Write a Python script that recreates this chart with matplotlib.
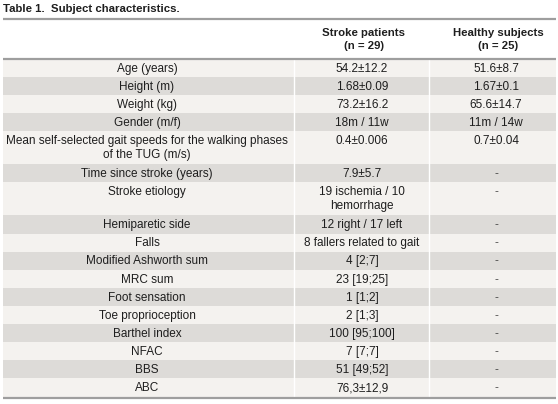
import matplotlib
matplotlib.use("Agg")
import matplotlib.pyplot as plt
from matplotlib.patches import Rectangle

plt.rcParams['font.family'] = ['Liberation Sans', 'DejaVu Sans']

title = "Table 1.  Subject characteristics."
headers = ["", "Stroke patients\n(n = 29)", "Healthy subjects\n(n = 25)"]

labels = [
    "Age (years)",
    "Height (m)",
    "Weight (kg)",
    "Gender (m/f)",
    "Mean self-selected gait speeds for the walking phases\nof the TUG (m/s)",
    "Time since stroke (years)",
    "Stroke etiology",
    "Hemiparetic side",
    "Falls",
    "Modified Ashworth sum",
    "MRC sum",
    "Foot sensation",
    "Toe proprioception",
    "Barthel index",
    "NFAC",
    "BBS",
    "ABC",
]
stroke = [
    "54.2\u00b112.2", "1.68\u00b10.09", "73.2\u00b116.2", "18m / 11w",
    "0.4\u00b10.006", "7.9\u00b15.7", "19 ischemia / 10\nhemorrhage",
    "12 right / 17 left", "8 fallers related to gait", "4 [2;7]",
    "23 [19;25]", "1 [1;2]", "2 [1;3]", "100 [95;100]", "7 [7;7]",
    "51 [49;52]", "76,3\u00b112,9",
]
healthy = [
    "51.6\u00b18.7", "1.67\u00b10.1", "65.6\u00b114.7", "11m / 14w",
    "0.7\u00b10.04", "-", "-", "-", "-", "-", "-", "-", "-", "-", "-", "-", "-",
]

# layout in pixels
W, H = 558, 404
left, right = 3, 556
col_x = [147, 362, 496]
col_sep = [294, 429]
row_h = 18.1
line_h = 14
top_rule, head_rule = 19, 59
light, dark = "#f4f2ef", "#dddbd8"
txt = "#1e1e1e"
fs = 8.5
fs_bold = 8.2

fig = plt.figure(figsize=(W / 100, H / 100), dpi=100)
ax = fig.add_axes([0, 0, 1, 1])
ax.set_xlim(0, W)
ax.set_ylim(H, 0)
ax.axis("off")

ax.text(3, 8.5, title, fontsize=fs_bold, fontweight="bold", color=txt,
        ha="left", va="center")

# header
for j in (1, 2):
    for k, line in enumerate(headers[j].split("\n")):
        ax.text(col_x[j] + 2, 33 + k * 13, line, fontsize=fs_bold,
                fontweight="bold", color=txt, ha="center", va="center")

y = head_rule
for i in range(len(labels)):
    cells = [labels[i], stroke[i], healthy[i]]
    nlines = max(c.count("\n") + 1 for c in cells)
    h = row_h if nlines == 1 else 33
    ax.add_patch(Rectangle((left, y), right - left, h,
                           facecolor=light if i % 2 == 0 else dark,
                           edgecolor="none", zorder=0))
    for j, c in enumerate(cells):
        for k, line in enumerate(c.split("\n")):
            ax.text(col_x[j], y + 9.8 + k * line_h, line, fontsize=fs,
                    color=txt, ha="center", va="center",
                    alpha=0.75 if line == "-" else 1)
    y += h

for sx in col_sep:
    ax.plot([sx, sx], [head_rule, y], color="white", lw=1, zorder=1)

for ry in (top_rule, head_rule, y + 1):
    ax.plot([left, right], [ry, ry], color="#9e9e9e", lw=1.6, zorder=2,
            solid_capstyle="butt")

fig.savefig("out.png", dpi=100)
